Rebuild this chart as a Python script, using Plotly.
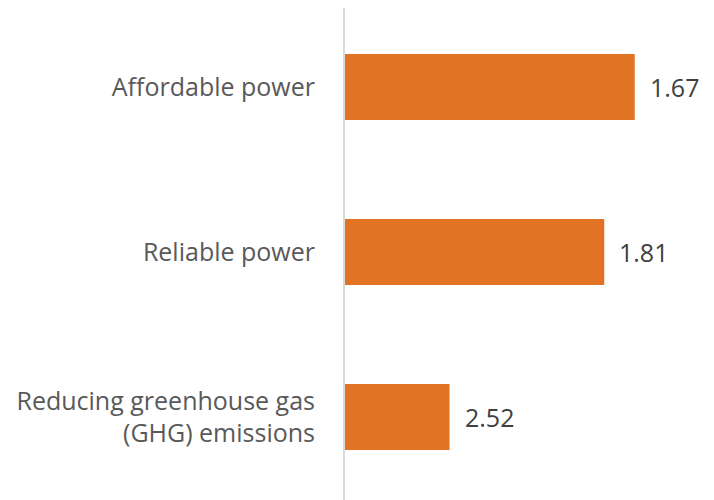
import plotly.graph_objects as go

categories = ["Affordable power", "Reliable power", "Reducing greenhouse gas<br>(GHG) emissions"]
scores = [1.67, 1.81, 2.52]          # labels shown next to bars
bar_lengths = [1.33, 1.19, 0.48]     # bar lengths as drawn

FONT = "Open Sans, sans-serif"

fig = go.Figure(go.Bar(
    x=bar_lengths,
    y=categories,
    orientation="h",
    marker=dict(color="#E27325", line=dict(width=0)),
    hoverinfo="skip",
))

for length, cat, score in zip(bar_lengths, categories, scores):
    fig.add_annotation(
        x=length, y=cat, xref="x", yref="y",
        text=f"{score:.2f}", showarrow=False,
        xanchor="left", yanchor="middle", xshift=13,
        font=dict(family=FONT, size=25, color="#404040"),
    )

fig.update_layout(
    width=714, height=500,
    margin=dict(l=337, r=23, t=0, b=0, autoexpand=False),
    paper_bgcolor="white", plot_bgcolor="white",
    bargap=0.6,
    showlegend=False,
    font=dict(family=FONT, size=25, color="#595959"),
)
fig.update_xaxes(range=[0, 1.625], visible=False, showgrid=False, zeroline=False,
                 automargin=False)
fig.update_yaxes(
    categoryorder="array", categoryarray=categories,
    range=[2.551, -0.479],
    showline=True, linecolor="#D9D9D9", linewidth=2,
    showgrid=False, zeroline=False, ticks="",
    ticklabelstandoff=23, automargin=False,
    tickfont=dict(family=FONT, size=25, color="#595959"),
)

fig.write_html("out.html")
